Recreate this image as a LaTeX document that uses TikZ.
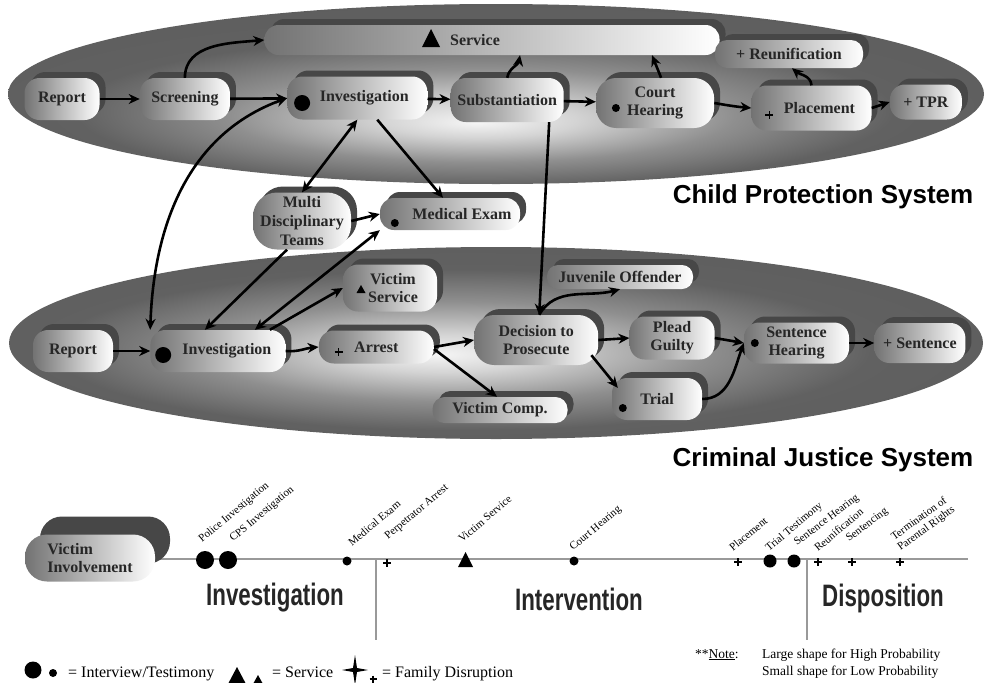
\documentclass[tikz,border=0pt]{standalone}
\usepackage{fontspec}
\setmainfont{Liberation Serif}
\newfontfamily\sysfont{Liberation Sans}
\newfontfamily\phasefont[FakeStretch=0.72]{Liberation Sans}
\usepackage{tikz}
\usetikzlibrary{arrows.meta,positioning,shadows}

% glow inside the two system ellipses
\pgfdeclareradialshading{cpsglow}{\pgfpoint{-1bp}{-8bp}}{color(0bp)=(black!4); color(5bp)=(black!17); color(13bp)=(black!44); color(21bp)=(black!62); color(50bp)=(black!66)}
\pgfdeclareradialshading{cjsglow}{\pgfpoint{-3bp}{-3bp}}{color(0bp)=(black!4); color(5bp)=(black!17); color(13bp)=(black!44); color(21bp)=(black!62); color(50bp)=(black!66)}

\begin{document}
\begin{tikzpicture}[x=1pt, y=-1pt, >={Stealth[length=11pt,width=10pt]},
  face/.style={rectangle, rounded corners=15pt, inner sep=0pt, align=center, text=black!85,
    left color=black!55, right color=white, font=\bfseries\fontsize{16}{18}\selectfont},
  pill/.style={face, general shadow={fill=black!72, shadow xshift=6pt, shadow yshift=6pt}},
  flow/.style={->, line width=2.6pt},
  plusln/.style={line width=1.6pt},
  sysname/.style={font=\sysfont\bfseries\fontsize{26}{28}\selectfont},
  phase/.style={font=\phasefont\bfseries\fontsize{31}{33}\selectfont, text=black!85},
  eventlbl/.style={anchor=base west, rotate=40, inner sep=0pt, font=\fontsize{11}{12}\selectfont},
  legendtxt/.style={anchor=base west, inner sep=0pt, font=\fontsize{16}{18}\selectfont},
  notetxt/.style={anchor=base west, inner sep=0pt, font=\fontsize{13.5}{15}\selectfont},
  axisline/.style={draw=black!40, line width=1.2pt}]
\useasboundingbox (0,0) rectangle (986,683);

% the two systems
\shade[shading=cpsglow] (496,94) ellipse [x radius=488pt, y radius=90pt];
\shade[shading=cjsglow] (496,343) ellipse [x radius=487pt, y radius=96pt];
\node (cpsname) [sysname] at (823,197) {Child Protection System};
\node (cjsname) [sysname] at (823,460) {Criminal Justice System};

% child protection system
\node (rep1) [pill, minimum width=75pt, minimum height=42pt] at (62,99) {Report};
\node (scr) [pill, minimum width=90pt, minimum height=42pt, right=40pt of rep1] {Screening};
\node (inv1) [pill, minimum width=140pt, minimum height=43pt, right=57pt of scr, yshift=1pt] {\hspace*{14pt}Investigation};
\node (sub) [pill, minimum width=113pt, minimum height=44pt, right=23pt of inv1, yshift=-2pt] {Substantiation};
\node (court) [pill, rounded corners=20pt, minimum width=118pt, minimum height=50pt, right=32pt of sub, yshift=-3pt] {Court\\Hearing};
\node (place) [pill, minimum width=120pt, minimum height=45pt, right=37pt of court, yshift=-5pt] {\hspace*{16pt}Placement};
\node (tpr) [pill, minimum width=72pt, minimum height=35pt, right=18pt of place, yshift=6pt] {+ TPR};
\node (svc) [pill, rounded corners=14pt, minimum width=455pt, minimum height=30pt] at (492,40) {Service\hspace*{34pt}};
\node (reun) [pill, rounded corners=12pt, minimum width=148pt, minimum height=28pt] at (789,54) {+ Reunification};

% shared services
\node (mdt) [pill, rounded corners=24pt, minimum width=98pt, minimum height=57pt, font=\bfseries\fontsize{16}{19}\selectfont] at (302,221) {Multi\\Disciplinary\\Teams};
\node (med) [pill, rounded corners=14pt, minimum width=140pt, minimum height=32pt] at (450,214) {\hspace*{24pt}Medical Exam};

% criminal justice system
\node (rep2) [pill, minimum width=80pt, minimum height=42pt] at (73,351) {Report};
\node (inv2) [pill, minimum width=135pt, minimum height=42pt, right=37pt of rep2] {\hspace*{18pt}Investigation};
\node (arrest) [pill, minimum width=115pt, minimum height=33pt, right=33pt of inv2, yshift=4pt] {Arrest};
\node (dec) [pill, rounded corners=20pt, minimum width=124pt, minimum height=50pt, right=40pt of arrest, yshift=7pt] {Decision to\\Prosecute};
\node (plead) [pill, minimum width=85pt, minimum height=43pt, right=31pt of dec, yshift=2pt] {Plead\\Guilty};
\node (shear) [pill, minimum width=105pt, minimum height=41pt, right=29pt of plead, yshift=-5pt] {Sentence\\Hearing};
\node (sent) [pill, minimum width=91pt, minimum height=40pt, right=25pt of shear] {+ Sentence};
\node (vsvc) [pill, minimum width=94pt, minimum height=47pt] at (390,288) {\hspace*{6pt}Victim\\\hspace*{6pt}Service};
\node (vcomp) [pill, rounded corners=12pt, minimum width=135pt, minimum height=26pt] at (500,410) {Victim Comp.};
\node (juv) [pill, rounded corners=11pt, minimum width=146pt, minimum height=24pt] at (620,277) {Juvenile Offender};
\node (trial) [pill, minimum width=90pt, minimum height=42pt] at (657,399) {Trial};

% marks inside the boxes
\fill ([xshift=15pt,yshift=-5pt]inv1.west) circle (8pt);
\fill ([xshift=13pt,yshift=-4pt]inv2.west) circle (8pt);
\fill ([xshift=20pt,yshift=-5pt]court.west) circle (4pt);
\fill ([xshift=15pt,yshift=-9pt]med.west) circle (4pt);
\fill ([xshift=11pt,yshift=-9pt]trial.west) circle (4pt);
\fill ([xshift=11pt]shear.west) circle (4pt);
\draw[plusln] ([xshift=18pt,yshift=-7pt]place.west) +(-4,0) -- +(4,0) +(0,-4) -- +(0,4);
\draw[plusln] ([xshift=20pt,yshift=-5pt]arrest.west) +(-4,0) -- +(4,0) +(0,-4) -- +(0,4);
\fill ([xshift=-61pt,yshift=-7pt]svc.center) +(-9,0) -- +(9,0) -- +(0,-18) -- cycle;
\fill ([xshift=-29pt,yshift=-5pt]vsvc.center) +(-4.5,0) -- +(4.5,0) -- +(0,-8) -- cycle;

% child protection flow
\draw[flow] (rep1) -- (scr);
\draw[flow] (scr) -- (inv1);
\draw[flow] (scr.north) to[out=90, in=185] (svc.west);
\draw[flow] (inv1) -- (sub);
\draw[flow] (sub.north) to[out=80, in=-100] ([xshift=28pt]svc.south);
\draw[flow] (sub) -- (court);
\draw[flow] ([xshift=6pt]court.north) -- ([xshift=160pt]svc.south);
\draw[flow] (court.east) to[out=-10, in=175] (place.west);
\draw[flow] (place.north) to[out=95, in=-40] ([xshift=3pt]reun.south);
\draw[flow] (place.east) -- (tpr.west);

% links between the systems
\draw[flow, <->] (inv2.north west) to[out=88, in=200] (inv1.west);
\draw[flow, <->] (inv1.south) -- (mdt.north);
\draw[flow] ([xshift=20pt]inv1.south) -- ([xshift=-7pt]med.north);
\draw[flow] (mdt.east) -- (med.west);
\draw[flow] ([xshift=-15pt]mdt.south) -- ([xshift=-13pt]inv2.north);
\draw[flow, <->] (med.south west) -- ([xshift=37pt]inv2.north);
\draw[flow] ([xshift=42pt]sub.south) -- ([xshift=3pt]dec.north);

% criminal justice flow
\draw[flow] (rep2) -- (inv2);
\draw[flow] ([xshift=52pt]inv2.north) -- (vsvc.west);
\draw[flow] (inv2.east) to[out=-5, in=185] (arrest.west);
\draw[flow] (arrest.east) -- (dec.west);
\draw[flow] ([yshift=-2pt]arrest.east) -- ([xshift=-3pt]vcomp.north);
\draw[flow] ([xshift=3pt]dec.north) to[out=60, in=195] (juv.south);
\draw[flow] (dec.east) -- (plead.west);
\draw[flow] ([xshift=-7pt,yshift=10pt]dec.south east) -- ([xshift=6pt,yshift=-10pt]trial.north west);
\draw[flow] (plead.east) -- (shear.west);
\draw[flow] (trial.east) to[out=0, in=250] (shear.west);
\draw[flow] (shear) -- (sent);

% victim involvement time line
\draw[axisline] (160,559) -- (968,559);
\draw[axisline] (376,559) -- (376,640);
\draw[axisline] (807,559) -- (807,640);
\node (vinv) [face, align=left, rounded corners=22pt, minimum width=130pt, minimum height=47pt,
  general shadow={fill=black!72, shadow xshift=15pt, shadow yshift=18pt}] at (90,558) {Victim\\Involvement};

\node (phinv) [phase] at (275,598) {Investigation};
\node (phint) [phase] at (579,599) {Intervention};
\node (phdis) [phase] at (883,598) {Disposition};

\node (ev1) [eventlbl] at (202,543) {Police Investigation};
\node (ev2) [eventlbl] at (233,542) {CPS Investigation};
\node (ev3) [eventlbl] at (352,547) {Medical Exam};
\node (ev4) [eventlbl] at (388,540) {Perpetrator Arrest};
\node (ev5) [eventlbl] at (462,543) {Victim Service};
\node (ev6) [eventlbl] at (573,551) {Court Hearing};
\node (ev7) [eventlbl] at (733,552) {Placement};
\node (ev8) [eventlbl] at (769,552) {Trial Testimony};
\node (ev9) [eventlbl, rotate=-3] at (797,546) {Sentence Hearing};
\node (ev10) [eventlbl] at (818,552) {Reunification};
\node (ev11) [eventlbl, rotate=-3] at (849,542) {Sentencing};
\node (ev12) [eventlbl, anchor=south west, align=center, rotate=-4] at (902,553) {Termination of\\Parental Rights};

\fill (205,560) circle (9pt);
\fill (228,560) circle (9pt);
\fill (347,561) circle (4.5pt);
\draw[plusln] (387,563) +(-4,0) -- +(4,0) +(0,-4) -- +(0,4);
\fill (458,567) -- (473,567) -- (465.5,552) -- cycle;
\fill (574,561) circle (4.5pt);
\draw[plusln] (738,562) +(-4,0) -- +(4,0) +(0,-4) -- +(0,4);
\fill (770,561) circle (6.5pt);
\fill (794,561) circle (6.5pt);
\draw[plusln] (818,562) +(-4,0) -- +(4,0) +(0,-4) -- +(0,4);
\draw[plusln] (852,562) +(-4,0) -- +(4,0) +(0,-4) -- +(0,4);
\draw[plusln] (900,562) +(-4,0) -- +(4,0) +(0,-4) -- +(0,4);

% legend
\fill (33,670) circle (8.5pt);
\fill (53,673) circle (4pt);
\node (lg1) [legendtxt] at (68,677) {= Interview/Testimony};
\fill (228,684) -- (246,684) -- (237,667) -- cycle;
\fill (253,684) -- (263,684) -- (258,675) -- cycle;
\node (lg2) [legendtxt] at (272,677) {= Service};
\fill (342,670) -- (353,668) -- (355,655) -- (357,668) -- (368,670) -- (357,672) -- (355,685) -- (353,672) -- cycle;
\draw[plusln] (373,679) +(-3.5,0) -- +(3.5,0) +(0,-3.5) -- +(0,3.5);
\node (lg3) [legendtxt] at (382,677) {= Family Disruption};

\node (note) [notetxt] at (695,658) {**\underline{Note}:};
\node (note1) [notetxt] at (762,658) {Large shape for High Probability};
\node (note2) [notetxt] at (762,675) {Small shape for Low Probability};
\end{tikzpicture}
\end{document}
